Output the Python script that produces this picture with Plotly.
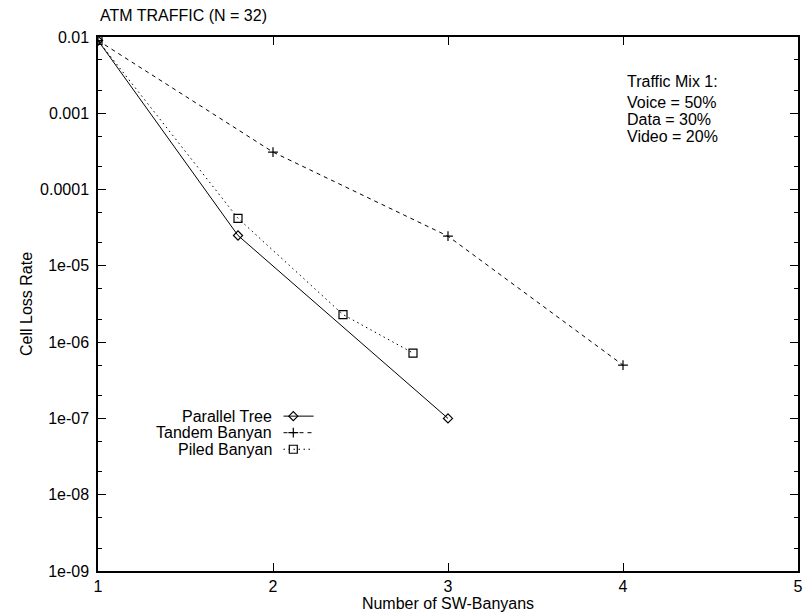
import plotly.graph_objects as go

# ---------------- data ----------------
par_x = [1, 1.8, 3]
par_y = [0.009, 2.5e-5, 1.0e-7]
tan_x = [1, 2, 3, 4]
tan_y = [0.009, 3.1e-4, 2.45e-5, 5.0e-7]
pil_x = [1, 1.8, 2.4, 2.8]
pil_y = [0.009, 4.2e-5, 2.3e-6, 7.2e-7]

series_names = ["Parallel Tree", "Tandem Banyan", "Piled Banyan"]
y_tickvals = [1e-2, 1e-3, 1e-4, 1e-5, 1e-6, 1e-7, 1e-8, 1e-9]
y_ticktext = ["0.01", "0.001", "0.0001", "1e-05", "1e-06", "1e-07", "1e-08", "1e-09"]
x_tickvals = [1, 2, 3, 4, 5]
mix_lines = ["Voice = 50%", "Data = 30%", "Video = 20%"]

FONT = "Liberation Sans, Arial, Helvetica, sans-serif"
FS = 16
styles = [
    dict(dash="solid", symbol="diamond-open", size=7),
    dict(dash="4px,4px", symbol="cross-thin-open", size=7),
    dict(dash="1.5px,3.5px", symbol="square-open", size=8),
]
data = [(par_x, par_y), (tan_x, tan_y), (pil_x, pil_y)]

fig = go.Figure()
for (xs, ys), st, nm in zip(data, styles, series_names):
    fig.add_trace(go.Scatter(
        x=xs, y=ys, mode="lines+markers", name=nm, showlegend=False,
        line=dict(color="black", width=1, dash=st["dash"]),
        marker=dict(symbol=st["symbol"], size=st["size"], color="black",
                    line=dict(color="black", width=1.2)),
    ))

# custom legend (gnuplot style: text then sample) on overlay axes
leg_y = [0.290, 0.259, 0.228]
for nm, st, ly in zip(series_names, styles, leg_y):
    fig.add_trace(go.Scatter(
        x=[0.265, 0.308], y=[ly, ly], mode="lines", xaxis="x2", yaxis="y2",
        showlegend=False, hoverinfo="skip",
        line=dict(color="black", width=1, dash=st["dash"]),
    ))
    fig.add_trace(go.Scatter(
        x=[0.279], y=[ly], mode="markers", xaxis="x2", yaxis="y2",
        showlegend=False, hoverinfo="skip",
        marker=dict(symbol=st["symbol"], size=st["size"], color="black",
                    line=dict(color="black", width=1.2)),
    ))
    fig.add_annotation(x=0.251, y=ly, xref="paper", yref="paper", text=nm,
                       showarrow=False, xanchor="right", yanchor="middle",
                       font=dict(family=FONT, size=FS, color="black"))

fig.add_annotation(x=0.753, y=0.916, xref="paper", yref="paper", text="Traffic Mix 1:",
                   showarrow=False, xanchor="left", yanchor="middle",
                   font=dict(family=FONT, size=FS, color="black"))
for i, t in enumerate(mix_lines):
    fig.add_annotation(x=0.753, y=0.878 - i * 0.0322, xref="paper", yref="paper", text=t,
                       showarrow=False, xanchor="left", yanchor="middle",
                       font=dict(family=FONT, size=FS, color="black"))

fig.update_layout(
    width=806, height=613,
    margin=dict(l=98, r=3, t=37, b=42),
    paper_bgcolor="white", plot_bgcolor="white",
    font=dict(family=FONT, size=FS, color="black"),
    title=dict(text="ATM TRAFFIC (N = 32)", x=100 / 806, xanchor="left",
               y=1 - 15 / 613, yanchor="middle", xref="container", yref="container",
               font=dict(family=FONT, size=FS, color="black")),
    xaxis=dict(range=[1, 5], tickvals=x_tickvals, ticks="inside", ticklen=8,
               tickwidth=1, tickcolor="black", showgrid=False, zeroline=False,
               showline=True, linecolor="black", linewidth=1.5, mirror="ticks",
               title=dict(text="Number of SW-Banyans", standoff=0,
                          font=dict(family=FONT, size=FS)),
               tickfont=dict(family=FONT, size=FS)),
    yaxis=dict(type="log", range=[-9, -2], tickvals=y_tickvals, ticktext=y_ticktext,
               ticks="inside", ticklen=8, tickwidth=1, tickcolor="black",
               showgrid=False, zeroline=False, showline=True, linecolor="black",
               linewidth=1.5, mirror="ticks", ticklabelstandoff=4,
               minor=dict(dtick="D2", ticks="inside", ticklen=4, tickcolor="black",
                          tickwidth=1, showgrid=False),
               title=dict(text="Cell Loss Rate", standoff=4,
                          font=dict(family=FONT, size=FS)),
               tickfont=dict(family=FONT, size=FS)),
    xaxis2=dict(overlaying="x", range=[0, 1], visible=False, fixedrange=True),
    yaxis2=dict(overlaying="y", range=[0, 1], visible=False, fixedrange=True),
)

fig.write_html("out.html")
